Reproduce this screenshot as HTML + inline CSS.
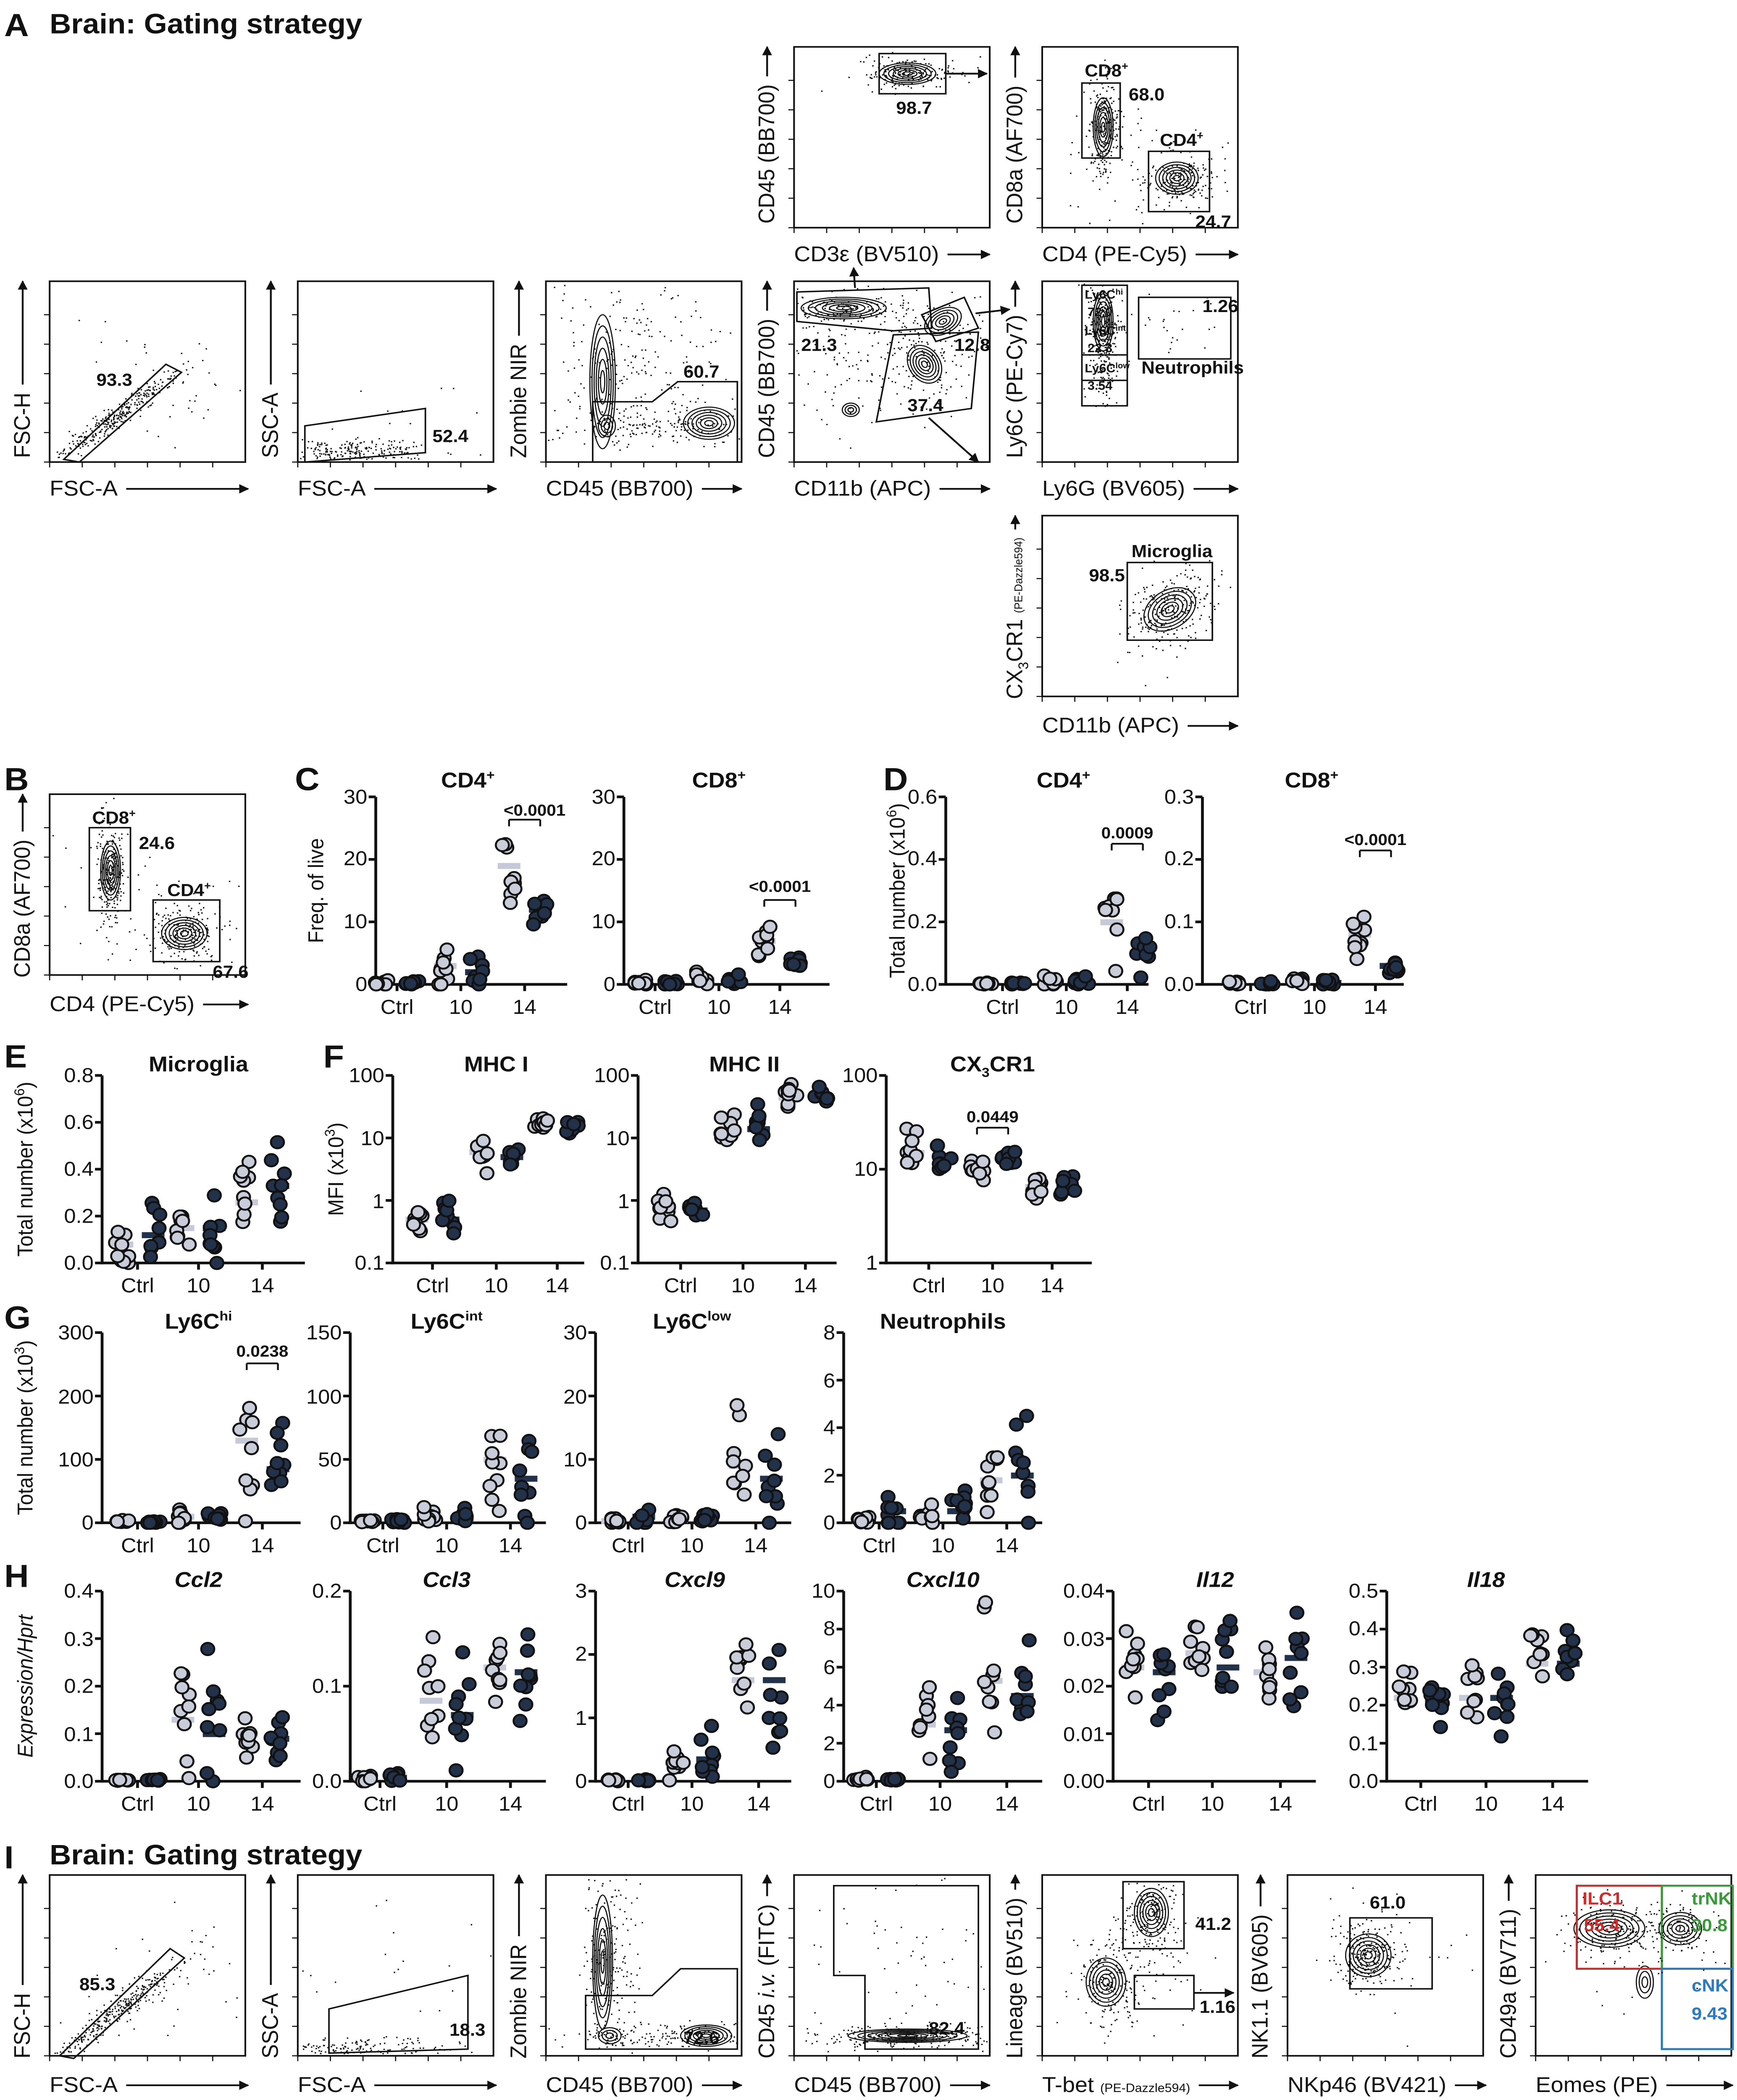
<!DOCTYPE html>
<html><head><meta charset="utf-8">
<style>
html,body{margin:0;padding:0;background:#fff;width:100%;height:100%;overflow:hidden;}
svg{display:block;position:absolute;left:0;top:0;width:100vw;height:100vh;}
text{font-family:"Liberation Sans Narrow","Liberation Sans",sans-serif;fill:#111;}
.t{font-size:15px;}
.ti{font-size:16px;font-weight:bold;}
.n{font-size:13px;font-weight:bold;}
.ax{font-size:16px;}
.pl{font-size:24px;font-weight:bold;font-family:"Liberation Sans",sans-serif;}
.hd{font-size:21px;font-weight:bold;}
.mid{text-anchor:middle;}
.end{text-anchor:end;}
</style></head>
<body>
<svg id="s" xmlns="http://www.w3.org/2000/svg" viewBox="0 0 1225 1568" preserveAspectRatio="none" overflow="hidden">
<defs><marker id="ah" viewBox="0 0 10 10" refX="9" refY="5" markerWidth="7" markerHeight="7" orient="auto-start-reverse" markerUnits="userSpaceOnUse"><path d="M0,0L10,5L0,10z" fill="#111"/></marker></defs>
<rect width="1225" height="1568" fill="#fff"/>
<g id="dyn"></g>
<text class="pl" x="3" y="27">A</text><text class="hd" x="35" y="25">Brain: Gating strategy</text>
<text class="pl" x="3" y="590">B</text><text class="pl" x="208" y="590">C</text><text class="pl" x="623" y="590">D</text>
<text class="pl" x="3" y="797">E</text><text class="pl" x="228" y="797">F</text>
<text class="pl" x="3" y="992">G</text><text class="pl" x="3" y="1185">H</text>
<text class="pl" x="3" y="1395">I</text><text class="hd" x="35" y="1392">Brain: Gating strategy</text>

<g class="ax">
<text class="yl" data-t="210" transform="translate(21,342) rotate(-90)">FSC-H</text><text class="xl" data-e="175" x="35" y="370">FSC-A</text>
<text class="yl" data-t="210" transform="translate(196,342) rotate(-90)">SSC-A</text><text class="xl" data-e="350" x="210" y="370">FSC-A</text>
<text class="yl" data-t="210" transform="translate(371,342) rotate(-90)">Zombie NIR</text><text class="xl" data-e="523" x="385" y="370">CD45 (BB700)</text>
<text class="yl" data-t="210" transform="translate(546,342) rotate(-90)">CD45 (BB700)</text><text class="xl" data-e="698" x="560" y="370">CD11b (APC)</text>
<text class="yl" data-t="210" transform="translate(721,342) rotate(-90)">Ly6C (PE-Cy7)</text><text class="xl" data-e="873" x="735" y="370">Ly6G (BV605)</text>
<text class="yl" data-t="35" transform="translate(546,167) rotate(-90)">CD45 (BB700)</text><text class="xl" data-e="698" x="560" y="195">CD3ε (BV510)</text>
<text class="yl" data-t="35" transform="translate(721,167) rotate(-90)">CD8a (AF700)</text><text class="xl" data-e="873" x="735" y="195">CD4 (PE-Cy5)</text>
<text class="yl" data-t="385" transform="translate(721,522) rotate(-90)">CX<tspan font-size="10" dy="4">3</tspan><tspan dy="-4">CR1 </tspan><tspan font-size="8">(PE-Dazzle594)</tspan></text><text class="xl" data-e="873" x="735" y="547">CD11b (APC)</text>
<text class="yl" data-t="593" transform="translate(21,730) rotate(-90)">CD8a (AF700)</text><text class="xl" data-e="175" x="35" y="755">CD4 (PE-Cy5)</text>
<text class="yl" data-t="1400" transform="translate(21,1537) rotate(-90)">FSC-H</text><text class="xl" data-e="175" x="35" y="1562">FSC-A</text>
<text class="yl" data-t="1400" transform="translate(196,1537) rotate(-90)">SSC-A</text><text class="xl" data-e="350" x="210" y="1562">FSC-A</text>
<text class="yl" data-t="1400" transform="translate(371,1537) rotate(-90)">Zombie NIR</text><text class="xl" data-e="523" x="385" y="1562">CD45 (BB700)</text>
<text class="yl" data-t="1400" transform="translate(546,1537) rotate(-90)">CD45 <tspan font-style="italic">i.v.</tspan> (FITC)</text><text class="xl" data-e="698" x="560" y="1562">CD45 (BB700)</text>
<text class="yl" data-t="1400" transform="translate(721,1537) rotate(-90)">Lineage (BV510)</text><text class="xl" data-e="873" x="735" y="1562">T-bet <tspan font-size="9">(PE-Dazzle594)</tspan></text>
<text class="yl" data-t="1400" transform="translate(894,1537) rotate(-90)">NK1.1 (BV605)</text><text class="xl" data-e="1048" x="908" y="1562">NKp46 (BV421)</text>
<text class="yl" data-t="1400" transform="translate(1069,1537) rotate(-90)">CD49a (BV711)</text><text class="xl" data-e="1222" x="1083" y="1562">Eomes (PE)</text>
</g>

<g class="n">
<text x="68" y="288">93.3</text><text x="305" y="330">52.4</text><text x="482" y="282">60.7</text>
<text x="565" y="262">21.3</text><text x="673" y="262">12.8</text><text x="640" y="307">37.4</text>
<text x="632" y="85">98.7</text>
<text x="765" y="57">CD8<tspan font-size="8" dy="-5">+</tspan></text><text x="796" y="75">68.0</text>
<text x="818" y="109">CD4<tspan font-size="8" dy="-5">+</tspan></text><text x="843" y="170">24.7</text>
<text x="765" y="223" font-size="9">Ly6C<tspan font-size="6" dy="-3">hi</tspan></text><text x="767" y="236" font-size="9">72.0</text>
<text x="765" y="250" font-size="9">Ly6C<tspan font-size="6" dy="-3">int</tspan></text><text x="767" y="263" font-size="9">22.3</text>
<text x="765" y="278" font-size="9">Ly6C<tspan font-size="6" dy="-3">low</tspan></text><text x="767" y="291" font-size="9">3.54</text>
<text x="848" y="233">1.26</text><text x="805" y="279">Neutrophils</text>
<text x="798" y="416">Microglia</text><text x="768" y="434">98.5</text>
<text x="65" y="615">CD8<tspan font-size="8" dy="-5">+</tspan></text><text x="98" y="634">24.6</text>
<text x="118" y="669">CD4<tspan font-size="8" dy="-5">+</tspan></text><text x="150" y="730">67.6</text>
<text x="56" y="1486">85.3</text><text x="317" y="1520">18.3</text><text x="482" y="1526">72.6</text><text x="655" y="1519">82.4</text>
<text x="843" y="1441">41.2</text><text x="846" y="1503">1.16</text><text x="966" y="1425">61.0</text>
<text x="1116" y="1422" style="fill:#d42a2a">ILC1</text><text x="1117" y="1442" style="fill:#d42a2a">55.4</text>
<text x="1193" y="1422" style="fill:#3a9a3a">trNK</text><text x="1193" y="1442" style="fill:#3a9a3a">30.8</text>
<text x="1193" y="1487" style="fill:#2a7ac4">cNK</text><text x="1193" y="1508" style="fill:#2a7ac4">9.43</text>
</g>

<g class="t">
<text class="ti mid" x="330" y="588">CD4<tspan font-size="10" dy="-6">+</tspan></text>
<text class="end" x="259" y="600">30</text><text class="end" x="259" y="646">20</text><text class="end" x="259" y="693">10</text><text class="end" x="259" y="740">0</text>
<text class="mid" x="280" y="757">Ctrl</text><text class="mid" x="325" y="757">10</text><text class="mid" x="370" y="757">14</text>
<text class="mid" transform="translate(228,665) rotate(-90)">Freq. of live</text>
<text class="mid" x="377" y="609" font-size="12" font-weight="bold">&lt;0.0001</text>
<text class="ti mid" x="507" y="588">CD8<tspan font-size="10" dy="-6">+</tspan></text>
<text class="end" x="434" y="600">30</text><text class="end" x="434" y="646">20</text><text class="end" x="434" y="693">10</text><text class="end" x="434" y="740">0</text>
<text class="mid" x="462" y="757">Ctrl</text><text class="mid" x="507" y="757">10</text><text class="mid" x="550" y="757">14</text>
<text class="mid" x="550" y="666" font-size="12" font-weight="bold">&lt;0.0001</text>
<text class="ti mid" x="750" y="588">CD4<tspan font-size="10" dy="-6">+</tspan></text>
<text class="end" x="661" y="600">0.6</text><text class="end" x="661" y="646">0.4</text><text class="end" x="661" y="693">0.2</text><text class="end" x="661" y="740">0.0</text>
<text class="mid" x="707" y="757">Ctrl</text><text class="mid" x="752" y="757">10</text><text class="mid" x="795" y="757">14</text>
<text class="mid" transform="translate(638,665) rotate(-90)">Total number (x10<tspan font-size="10" dy="-6">6</tspan><tspan dy="6">)</tspan></text>
<text class="mid" x="795" y="626" font-size="12" font-weight="bold">0.0009</text>
<text class="ti mid" x="925" y="588">CD8<tspan font-size="10" dy="-6">+</tspan></text>
<text class="end" x="842" y="600">0.3</text><text class="end" x="842" y="646">0.2</text><text class="end" x="842" y="693">0.1</text><text class="end" x="842" y="740">0.0</text>
<text class="mid" x="882" y="757">Ctrl</text><text class="mid" x="927" y="757">10</text><text class="mid" x="970" y="757">14</text>
<text class="mid" x="970" y="631" font-size="12" font-weight="bold">&lt;0.0001</text>
<text class="ti mid" x="140" y="800">Microglia</text>
<text class="end" x="66" y="808">0.8</text><text class="end" x="66" y="843">0.6</text><text class="end" x="66" y="878">0.4</text><text class="end" x="66" y="913">0.2</text><text class="end" x="66" y="948">0.0</text>
<text class="mid" x="97" y="965">Ctrl</text><text class="mid" x="140" y="965">10</text><text class="mid" x="185" y="965">14</text>
<text class="mid" transform="translate(23,873) rotate(-90)">Total number (x10<tspan font-size="10" dy="-6">6</tspan><tspan dy="6">)</tspan></text>
<text class="ti mid" x="350" y="800">MHC I</text>
<text class="end" x="271" y="808">100</text><text class="end" x="271" y="855">10</text><text class="end" x="271" y="902">1</text><text class="end" x="271" y="948">0.1</text>
<text class="mid" x="305" y="965">Ctrl</text><text class="mid" x="350" y="965">10</text><text class="mid" x="393" y="965">14</text>
<text class="mid" transform="translate(242,873) rotate(-90)">MFI (x10<tspan font-size="10" dy="-6">3</tspan><tspan dy="6">)</tspan></text>
<text class="ti mid" x="525" y="800">MHC II</text>
<text class="end" x="444" y="808">100</text><text class="end" x="444" y="855">10</text><text class="end" x="444" y="902">1</text><text class="end" x="444" y="948">0.1</text>
<text class="mid" x="480" y="965">Ctrl</text><text class="mid" x="524" y="965">10</text><text class="mid" x="568" y="965">14</text>
<text class="ti mid" x="700" y="800">CX<tspan font-size="10" dy="4">3</tspan><tspan dy="-4">CR1</tspan></text>
<text class="end" x="619" y="808">100</text><text class="end" x="619" y="878">10</text><text class="end" x="619" y="948">1</text>
<text class="mid" x="655" y="965">Ctrl</text><text class="mid" x="700" y="965">10</text><text class="mid" x="742" y="965">14</text>
<text class="mid" x="700" y="838" font-size="12" font-weight="bold">0.0449</text>
<text class="ti mid" x="140" y="992">Ly6C<tspan font-size="10" dy="-6">hi</tspan></text>
<text class="end" x="66" y="1000">300</text><text class="end" x="66" y="1048">200</text><text class="end" x="66" y="1095">100</text><text class="end" x="66" y="1142">0</text>
<text class="mid" x="97" y="1159">Ctrl</text><text class="mid" x="140" y="1159">10</text><text class="mid" x="185" y="1159">14</text>
<text class="mid" transform="translate(23,1066) rotate(-90)">Total number (x10<tspan font-size="10" dy="-6">3</tspan><tspan dy="6">)</tspan></text>
<text class="mid" x="185" y="1013" font-size="12" font-weight="bold">0.0238</text>
<text class="ti mid" x="315" y="992">Ly6C<tspan font-size="10" dy="-6">int</tspan></text>
<text class="end" x="241" y="1000">150</text><text class="end" x="241" y="1048">100</text><text class="end" x="241" y="1095">50</text><text class="end" x="241" y="1142">0</text>
<text class="mid" x="270" y="1159">Ctrl</text><text class="mid" x="315" y="1159">10</text><text class="mid" x="360" y="1159">14</text>
<text class="ti mid" x="488" y="992">Ly6C<tspan font-size="10" dy="-6">low</tspan></text>
<text class="end" x="414" y="1000">30</text><text class="end" x="414" y="1048">20</text><text class="end" x="414" y="1095">10</text><text class="end" x="414" y="1142">0</text>
<text class="mid" x="443" y="1159">Ctrl</text><text class="mid" x="488" y="1159">10</text><text class="mid" x="533" y="1159">14</text>
<text class="ti mid" x="665" y="992">Neutrophils</text>
<text class="end" x="589" y="1000">8</text><text class="end" x="589" y="1036">6</text><text class="end" x="589" y="1071">4</text><text class="end" x="589" y="1107">2</text><text class="end" x="589" y="1142">0</text>
<text class="mid" x="620" y="1159">Ctrl</text><text class="mid" x="665" y="1159">10</text><text class="mid" x="710" y="1159">14</text>
<text class="ti mid" x="140" y="1185" font-style="italic">Ccl2</text>
<text class="end" x="66" y="1193">0.4</text><text class="end" x="66" y="1229">0.3</text><text class="end" x="66" y="1264">0.2</text><text class="end" x="66" y="1300">0.1</text><text class="end" x="66" y="1335">0.0</text>
<text class="mid" x="97" y="1352">Ctrl</text><text class="mid" x="140" y="1352">10</text><text class="mid" x="185" y="1352">14</text>
<text class="mid" font-style="italic" transform="translate(23,1259) rotate(-90)">Expression/Hprt</text>
<text class="ti mid" x="315" y="1185" font-style="italic">Ccl3</text>
<text class="end" x="241" y="1193">0.2</text><text class="end" x="241" y="1264">0.1</text><text class="end" x="241" y="1335">0.0</text>
<text class="mid" x="268" y="1352">Ctrl</text><text class="mid" x="315" y="1352">10</text><text class="mid" x="360" y="1352">14</text>
<text class="ti mid" x="490" y="1185" font-style="italic">Cxcl9</text>
<text class="end" x="414" y="1193">3</text><text class="end" x="414" y="1240">2</text><text class="end" x="414" y="1288">1</text><text class="end" x="414" y="1335">0</text>
<text class="mid" x="443" y="1352">Ctrl</text><text class="mid" x="488" y="1352">10</text><text class="mid" x="535" y="1352">14</text>
<text class="ti mid" x="665" y="1185" font-style="italic">Cxcl10</text>
<text class="end" x="589" y="1193">10</text><text class="end" x="589" y="1221">8</text><text class="end" x="589" y="1250">6</text><text class="end" x="589" y="1278">4</text><text class="end" x="589" y="1307">2</text><text class="end" x="589" y="1335">0</text>
<text class="mid" x="618" y="1352">Ctrl</text><text class="mid" x="663" y="1352">10</text><text class="mid" x="710" y="1352">14</text>
<text class="ti mid" x="857" y="1185" font-style="italic">Il12</text>
<text class="end" x="779" y="1193">0.04</text><text class="end" x="779" y="1229">0.03</text><text class="end" x="779" y="1264">0.02</text><text class="end" x="779" y="1300">0.01</text><text class="end" x="779" y="1335">0.00</text>
<text class="mid" x="810" y="1352">Ctrl</text><text class="mid" x="855" y="1352">10</text><text class="mid" x="903" y="1352">14</text>
<text class="ti mid" x="1048" y="1185" font-style="italic">Il18</text>
<text class="end" x="972" y="1193">0.5</text><text class="end" x="972" y="1221">0.4</text><text class="end" x="972" y="1250">0.3</text><text class="end" x="972" y="1278">0.2</text><text class="end" x="972" y="1307">0.1</text><text class="end" x="972" y="1335">0.0</text>
<text class="mid" x="1002" y="1352">Ctrl</text><text class="mid" x="1048" y="1352">10</text><text class="mid" x="1095" y="1352">14</text>
</g>
</svg>
<script>
(function(){
var NS="http://www.w3.org/2000/svg",G=document.getElementById('dyn');
function el(t,a,p){var e=document.createElementNS(NS,t);for(var k in a)e.setAttribute(k,a[k]);(p||G).appendChild(e);return e;}
var seed=12345;function R(){seed=(seed*1103515245+12345)%2147483648;return seed/2147483648;}
function N(){var u=R()||1e-6,v=R();return Math.sqrt(-2*Math.log(u))*Math.cos(6.283*v);}
function line(x1,y1,x2,y2,w,arr){var a={x1:x1,y1:y1,x2:x2,y2:y2,stroke:'#111','stroke-width':w||1.5};if(arr)a['marker-end']='url(#ah)';el('line',a);}
document.querySelectorAll('.yl').forEach(function(t){var L=t.getComputedTextLength();var m=t.getAttribute('transform').match(/translate\(([\d.]+),([\d.]+)/);var x=+m[1]-5,y=+m[2];line(x,y-L-6,x,+t.dataset.t,1.3,true);});
document.querySelectorAll('.xl').forEach(function(t){var L=t.getComputedTextLength();var x=+t.getAttribute('x'),y=+t.getAttribute('y')-5;line(x+L+6,y,+t.dataset.e,y,1.3,true);});
var dots='';
var B=[0,0,0,0];
function cloud(cx,cy,sx,sy,n,rot){n=Math.round(n*0.45);rot=(rot||0)*Math.PI/180;var c=Math.cos(rot),s=Math.sin(rot);for(var i=0;i<n;i++){var a=N()*sx,b=N()*sy;var px=cx+a*c-b*s,py=cy+a*s+b*c;if(px<B[0]+1||px>B[2]-2||py<B[1]+1||py>B[3]-2)continue;dots+='M'+px.toFixed(1)+','+py.toFixed(1)+'h1v1h-1z';}}
function box(x,y){B=[x,y,x+138,y+135];}
function cont(cx,cy,rx,ry,k,rot){for(var i=1;i<=k;i++){el('ellipse',{cx:cx,cy:cy,rx:rx*i/k,ry:ry*i/k,fill:'none',stroke:'#111','stroke-width':0.8,transform:'rotate('+(rot||0)+' '+cx+' '+cy+')'});}}
function poly(pts,col,w){el('polygon',{points:pts,fill:'none',stroke:col||'#111','stroke-width':w||1.1});}
function rect(x,y,w,h,col,sw){el('rect',{x:x,y:y,width:w,height:h,fill:'none',stroke:col||'#111','stroke-width':sw||1.1});}
function frame(x,y){rect(x,y,138,135,'#111',1.2);for(var i=0;i<6;i++){line(x-4,y+135-i*22,x,y+135-i*22,0.8);line(x+i*23,y+135,x+i*23,y+139,0.8);}}
[[35,210],[210,210],[385,210],[560,210],[735,210],[560,35],[735,35],[735,385],[35,593],[35,1400],[210,1400],[385,1400],[560,1400],[735,1400],[908,1400],[1083,1400]].forEach(function(p){frame(p[0],p[1]);});
box(35,210);cloud(80,312,30,3.5,700,-38);cloud(115,285,30,25,90);poly('45,343 117,272 128,278 56,345');
box(210,210);cloud(250,336,28,4,500);cloud(270,300,45,30,40);poly('215,318 300,305 300,338 215,345');
box(385,210);cloud(440,270,35,35,500);cloud(470,318,40,7,400);cont(425,285,9,50,6);cont(428,318,6,8,3);cont(500,316,18,12,6);poly('418,300 460,300 478,285 520,285 520,345 418,345');
box(560,210);cloud(610,250,45,35,450);cloud(595,230,25,6,300);cloud(655,265,20,18,300,-30);cont(595,230,30,8,6);cont(665,240,14,9,5,-30);cont(652,272,11,15,6,-30);cont(600,306,6,5,3);
poly('562,218 655,215 657,245 630,247 562,240');poly('650,235 680,222 690,245 660,255');poly('630,250 690,248 685,305 618,315');
line(603,215,602,200,1.3,true);line(688,234,712,231,1.3,true);line(655,312,690,345,1.3,true);
box(735,210);cloud(777,250,5,25,600);cloud(830,240,18,15,60);cont(778,240,7,22,6);rect(763,213,32,90);line(763,265,795,265,1.1);line(763,284,795,284,1.1);rect(803,222,65,46);
box(560,35);cloud(640,55,18,6,400);cont(640,55,20,8,6);rect(620,40,47,30);line(667,55,696,55,1.3,true);
box(735,35);cloud(778,95,5,20,500);cloud(830,135,14,10,400);cloud(800,120,30,30,80);cont(778,95,7,22,6);cont(830,133,15,12,6);rect(763,62,27,56);rect(810,113,43,45);
box(735,385);cloud(825,455,18,12,500,-35);cloud(825,470,12,30,60);cont(825,455,20,14,6,-35);rect(795,420,60,58);
box(35,593);cloud(78,650,5,20,500);cloud(130,697,14,10,450);cloud(100,675,30,30,80);cont(78,650,7,22,6);cont(130,697,16,12,6);rect(63,618,29,62);rect(108,672,47,46);
box(35,1400);cloud(80,1503,32,4,700,-40);cloud(110,1480,30,25,100);poly('42,1535 120,1455 130,1462 52,1537');
box(210,1400);cloud(255,1530,30,4,450);cloud(280,1480,50,35,50);poly('232,1500 330,1475 330,1530 232,1533');
box(385,1400);cloud(430,1470,10,40,500);cloud(470,1520,40,5,400);cont(425,1465,7,50,6);cont(498,1520,18,8,6);cont(430,1520,8,6,3);poly('413,1490 460,1490 480,1470 520,1470 520,1530 413,1530');
box(560,1400);cloud(640,1520,38,4,600);cloud(640,1460,40,40,150);cont(640,1520,42,5,6);poly('588,1408 690,1408 690,1530 610,1530 610,1475 588,1475');
box(735,1400);cloud(812,1430,10,16,400);cloud(782,1480,12,16,400);cloud(810,1460,30,30,100);cont(812,1428,12,18,6);cont(780,1480,14,18,6);rect(792,1405,43,50);rect(800,1475,42,25);line(842,1488,870,1488,1.3,true);
box(908,1400);cloud(965,1460,12,12,500);cloud(980,1450,30,30,60);cont(965,1460,16,16,6);rect(952,1432,58,53);
box(1083,1400);cloud(1140,1440,20,10,400);cloud(1185,1440,12,10,200);cloud(1160,1460,30,25,60);cont(1135,1440,25,14,6);cont(1185,1440,15,12,5);cont(1160,1480,6,12,3);
rect(1112,1408,60,62,'#d42a2a',1.5);rect(1172,1408,50,62,'#3a9a3a',1.5);rect(1172,1470,50,60,'#2a7ac4',1.5);
el('path',{d:dots,fill:'#111'});
function sc(p){var ax=p.ax,y0=p.y0,y1=p.y1,x1=p.x1;
 line(ax,y0,ax,y1+1,2);line(ax-1,y1,x1,y1,2);
 p.ticks.forEach(function(t){line(ax-5,t,ax,t,2);});
 p.cats.forEach(function(c){line(c,y1,c,y1+5,2);});
 function Y(v){if(p.log){var a=Math.log10(p.min),b=Math.log10(p.max);return y1-(Math.log10(Math.max(v,p.min))-a)/(b-a)*(y1-y0);}return y1-(Math.min(Math.max(v,p.min),p.max)-p.min)/(p.max-p.min)*(y1-y0);}
 p.d.forEach(function(g,i){var cx=p.cats[i];[[g[0],g[1],-11,'#c9cdd9','#c5c9d8'],[g[2],g[3],11,'#22324a','#22324a']].forEach(function(q){
  var gx=cx+q[2];var vals=[];for(var k=0;k<9;k++){var v=p.log?q[0]*Math.exp(N()*q[1]):q[0]+N()*q[1];vals.push(v);}
  el('rect',{x:gx-8,y:Y(q[0])-2,width:16,height:4.5,fill:q[4]});
  vals.forEach(function(v){el('circle',{cx:gx+(R()-0.5)*10,cy:Y(v),r:4.6,fill:q[3],stroke:'#111','stroke-width':1.4});});
 });});
 if(p.sig){var s=p.sig;line(s[0],s[2]+5,s[0],s[2],1.3);line(s[0],s[2],s[1],s[2],1.3);line(s[1],s[2],s[1],s[2]+5,1.3);}
}
function lt(y0,y1,n){var r=[];for(var i=0;i<=n;i++)r.push(y0+(y1-y0)*i/n);return r;}
var P=[
{ax:265,y0:595,y1:735,x1:400,ticks:lt(595,735,3),cats:[280,325,370],min:0,max:30,d:[[0.3,0.3,0.3,0.3],[3,2,2,1.2],[19,3,12,2]],sig:[359,381,612]},
{ax:440,y0:595,y1:735,x1:585,ticks:lt(595,735,3),cats:[462,507,550],min:0,max:30,d:[[0.2,0.2,0.2,0.2],[0.8,0.5,0.5,0.4],[7,1.5,3.5,1]],sig:[539,561,672]},
{ax:667,y0:595,y1:735,x1:810,ticks:lt(595,735,3),cats:[707,752,795],min:0,max:0.6,d:[[0.003,0.003,0.003,0.003],[0.02,0.015,0.01,0.008],[0.2,0.08,0.1,0.04]],sig:[784,806,630]},
{ax:848,y0:595,y1:735,x1:990,ticks:lt(595,735,3),cats:[882,927,970],min:0,max:0.3,d:[[0.002,0.002,0.002,0.002],[0.005,0.004,0.003,0.003],[0.08,0.025,0.03,0.012]],sig:[959,981,635]},
{ax:72,y0:803,y1:943,x1:215,ticks:lt(803,943,4),cats:[97,140,185],min:0,max:0.8,d:[[0.08,0.05,0.12,0.06],[0.15,0.05,0.15,0.07],[0.26,0.08,0.33,0.08]]},
{ax:277,y0:803,y1:943,x1:412,ticks:lt(803,943,3),cats:[305,350,393],log:1,min:0.1,max:100,d:[[0.5,0.3,0.5,0.25],[6,0.5,5,0.4],[17,0.15,16,0.15]]},
{ax:450,y0:803,y1:943,x1:590,ticks:lt(803,943,3),cats:[480,524,568],log:1,min:0.1,max:100,d:[[0.7,0.2,0.7,0.15],[13,0.3,14,0.3],[45,0.15,45,0.15]]},
{ax:625,y0:803,y1:943,x1:770,ticks:lt(803,943,2),cats:[655,700,742],log:1,min:1,max:100,d:[[15,0.25,14,0.25],[10,0.15,13,0.12],[6.5,0.2,6.5,0.2]],sig:[689,711,842]},
{ax:72,y0:995,y1:1137,x1:212,ticks:lt(995,1137,3),cats:[97,140,185],min:0,max:300,d:[[2,2,2,2],[10,8,8,6],[130,55,85,35]],sig:[174,196,1018]},
{ax:247,y0:995,y1:1137,x1:385,ticks:lt(995,1137,3),cats:[270,315,360],min:0,max:150,d:[[1,1,1,1],[4,3,4,3],[50,28,35,20]]},
{ax:420,y0:995,y1:1137,x1:558,ticks:lt(995,1137,3),cats:[443,488,533],min:0,max:30,d:[[0.3,0.3,1,1.2],[0.5,0.4,0.5,0.4],[9,6,7,4]]},
{ax:595,y0:995,y1:1137,x1:735,ticks:lt(995,1137,4),cats:[620,665,710],min:0,max:8,d:[[0.1,0.1,0.5,1.1],[0.4,0.3,0.5,0.4],[1.8,0.8,2,1]]},
{ax:72,y0:1188,y1:1330,x1:212,ticks:lt(1188,1330,4),cats:[97,140,185],min:0,max:0.4,d:[[0.002,0.001,0.002,0.001],[0.13,0.08,0.1,0.09],[0.1,0.03,0.09,0.03]]},
{ax:247,y0:1188,y1:1330,x1:385,ticks:lt(1188,1330,2),cats:[268,315,360],min:0,max:0.2,d:[[0.005,0.003,0.004,0.003],[0.085,0.03,0.07,0.035],[0.12,0.02,0.115,0.02]]},
{ax:420,y0:1188,y1:1330,x1:558,ticks:lt(1188,1330,3),cats:[443,488,535],min:0,max:3,d:[[0.02,0.01,0.02,0.01],[0.3,0.15,0.35,0.2],[1.6,0.5,1.6,0.5]]},
{ax:595,y0:1188,y1:1330,x1:735,ticks:lt(1188,1330,5),cats:[618,663,710],min:0,max:10,d:[[0.1,0.05,0.1,0.05],[3,1,2.7,1.2],[5.3,1.5,4.5,1.5]]},
{ax:785,y0:1188,y1:1330,x1:928,ticks:lt(1188,1330,4),cats:[810,855,903],min:0,max:0.04,d:[[0.024,0.004,0.023,0.004],[0.027,0.004,0.024,0.004],[0.023,0.004,0.026,0.006]]},
{ax:978,y0:1188,y1:1330,x1:1120,ticks:lt(1188,1330,5),cats:[1002,1048,1095],min:0,max:0.5,d:[[0.22,0.04,0.21,0.04],[0.22,0.05,0.22,0.05],[0.31,0.04,0.31,0.05]]}
];
P.forEach(sc);
})();
</script>
</body></html>
